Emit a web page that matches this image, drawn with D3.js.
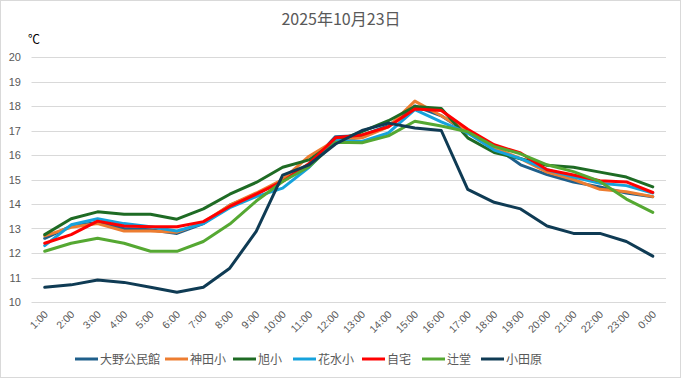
<!DOCTYPE html>
<html><head><meta charset="utf-8">
<script src="https://cdn.jsdelivr.net/npm/d3@7"></script>
<style>
body{margin:0;background:#fff;}
svg{display:block;font-family:"Noto Sans CJK JP","Noto Sans",sans-serif;}
</style></head>
<body><svg id="chart" width="681" height="379"></svg>
<script>
const hours = ["1:00","2:00","3:00","4:00","5:00","6:00","7:00","8:00","9:00","10:00","11:00","12:00","13:00","14:00","15:00","16:00","17:00","18:00","19:00","20:00","21:00","22:00","23:00","0:00"];
const seriesNames = ["大野公民館","神田小","旭小","花水小","自宅","辻堂","小田原"];
const seriesColors = ["#1f5f8b","#ed7d31","#1e6b24","#16a2dc","#ff0000","#55a832","#0f3b54"];
const ohno    = [12.6,13.1,13.25,13.0,12.95,12.8,13.2,13.95,14.4,14.95,15.6,16.75,16.8,17.2,18.0,17.6,16.9,16.35,15.6,15.2,14.9,14.7,14.45,14.3];
const kanda   = [12.7,13.05,13.2,12.9,12.9,12.85,13.25,13.95,14.45,15.0,15.95,16.6,16.7,17.15,18.2,17.6,16.95,16.3,15.85,15.3,15.0,14.6,14.5,14.3];
const asahi   = [12.75,13.4,13.68,13.58,13.58,13.38,13.8,14.4,14.88,15.5,15.8,16.55,16.95,17.4,17.98,17.9,16.7,16.1,15.85,15.58,15.5,15.3,15.1,14.7];
const hanamizu= [12.3,13.15,13.4,13.2,13.07,12.9,13.2,13.85,14.3,14.65,15.5,16.6,16.55,16.9,17.85,17.35,16.9,16.2,15.85,15.4,15.1,14.85,14.75,14.45];
const jitaku  = [12.4,12.75,13.3,13.1,13.07,13.07,13.28,13.9,14.4,14.92,15.65,16.7,16.82,17.15,17.88,17.82,17.05,16.42,16.08,15.4,15.18,14.95,14.9,14.47];
const tsujido = [12.07,12.4,12.6,12.4,12.07,12.07,12.47,13.18,14.12,14.92,15.52,16.52,16.5,16.78,17.38,17.18,16.95,16.35,16.05,15.6,15.32,14.92,14.2,13.66];
const odawara = [10.6,10.7,10.9,10.8,10.6,10.4,10.6,11.38,12.88,15.18,15.6,16.45,17.0,17.3,17.1,17.0,14.6,14.07,13.8,13.1,12.8,12.8,12.47,11.87];
const yTicks = [10,11,12,13,14,15,16,17,18,19,20];
const titleText = "2025年10月23日";
const unitText = "℃";

const seriesValues = [ohno,kanda,asahi,hanamizu,jitaku,tsujido,odawara];
const svg = d3.select("#chart");
const W = 681, H = 379;
const plot = {left:31.5, right:666, top:57, bottom:302};

svg.append("rect").attr("x",0.5).attr("y",0.5).attr("width",W-1).attr("height",H-2)
  .attr("fill","#fff").attr("stroke","#d9d9d9");

const x = d3.scaleBand().domain(hours).range([plot.left,plot.right]);
const y = d3.scaleLinear().domain([10,20]).range([plot.bottom,plot.top]);

// grid
svg.append("g").selectAll("line").data(yTicks).join("line")
  .attr("x1",plot.left).attr("x2",plot.right)
  .attr("y1",d=>Math.round(y(d))+0.5).attr("y2",d=>Math.round(y(d))+0.5)
  .attr("stroke","#d9d9d9").attr("stroke-width",1);

// y axis labels
const yAxis = d3.axisLeft(y).tickValues(yTicks).tickSize(0).tickPadding(0);
const gy = svg.append("g").attr("transform",`translate(${21},0)`).call(yAxis);
gy.select(".domain").remove();
gy.selectAll("text").attr("fill","#595959").style("font-size","11px").style("font-family","'Liberation Sans',Arial,sans-serif");

// x axis labels
const xAxis = d3.axisBottom(x).tickSize(0).tickPadding(0);
const gx = svg.append("g").attr("transform",`translate(0,${plot.bottom})`).call(xAxis);
gx.select(".domain").remove();
gx.selectAll("text").attr("fill","#595959").style("font-size","10.5px")
  .style("font-family","'Liberation Sans',Arial,sans-serif")
  .attr("text-anchor","end").attr("dy",0)
  .attr("transform","translate(4,13) rotate(-45)");

// lines
const line = d3.line().x((d,i)=>x(hours[i])+x.bandwidth()/2).y(d=>y(d));
svg.append("g").selectAll("path").data(seriesValues).join("path")
  .attr("d",d=>line(d)).attr("fill","none")
  .attr("stroke",(d,i)=>seriesColors[i]).attr("stroke-width",3)
  .attr("stroke-linejoin","round").attr("stroke-linecap","round");

// title
svg.append("text").attr("x",341).attr("y",25).attr("text-anchor","middle")
  .attr("fill","#595959").style("font-size","16px").text(titleText);
svg.append("text").attr("x",28).attr("y",44)
  .attr("fill","#000").style("font-size","12px").text(unitText);

// legend
const legX = [75,165,233,293,362,422,481];
const leg = svg.append("g").selectAll("g").data(seriesNames).join("g")
  .attr("transform",(d,i)=>`translate(${legX[i]},359)`);
leg.append("line").attr("x1",0).attr("x2",23).attr("y1",0).attr("y2",0)
  .attr("stroke",(d,i)=>seriesColors[i]).attr("stroke-width",3);
leg.append("text").attr("x",25).attr("y",4.5).attr("fill","#595959")
  .style("font-size","12px").text(d=>d);
</script></body></html>
